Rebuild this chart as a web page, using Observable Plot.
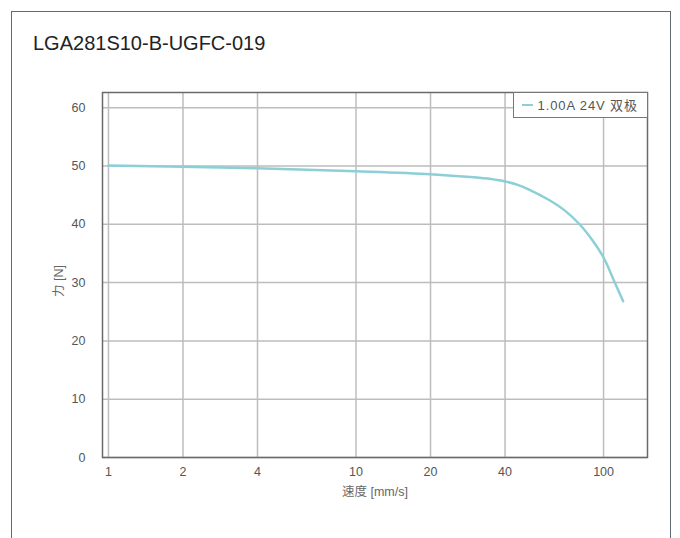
<!DOCTYPE html>
<html><head><meta charset="utf-8">
<script src="https://cdn.jsdelivr.net/npm/d3@7"></script>
<script src="https://cdn.jsdelivr.net/npm/@observablehq/plot@0.6"></script>
<style>
body{margin:0;background:#fff;}
#wrap{position:relative;width:680px;height:538px;overflow:hidden;font-family:"Liberation Sans","Noto Sans CJK SC",sans-serif;background:#fff;}
#frame{position:absolute;left:11px;top:11px;width:658px;height:620px;border:1.5px solid #5f6b75;}
#title{position:absolute;left:33px;top:33px;font-size:20px;line-height:20px;color:#222;white-space:nowrap;}
#chart{position:absolute;left:0;top:0;}
#ylabel{position:absolute;left:57px;top:281px;transform:translate(-50%,-50%) rotate(-90deg);font-size:12.5px;color:#666;white-space:nowrap;}
#legend{position:absolute;left:512.5px;top:91.5px;width:133px;height:24.5px;border:1px solid #777;background:#fff;box-sizing:content-box;font-size:13px;color:#555;letter-spacing:0.9px;white-space:nowrap;}
#legend .sw{position:absolute;left:8px;top:11.5px;width:11px;height:2px;background:#8ccfd7;}
#legend .tx{position:absolute;left:24px;top:5px;line-height:15px;}
</style></head>
<body>
<div id="wrap">
  <div id="frame"></div>
  <div id="title"></div>
  <div id="chart"></div>
  <div id="ylabel"></div>
  <div id="legend"><div class="sw"></div><div class="tx"></div></div>
</div>
<script>
const titleText = "LGA281S10-B-UGFC-019";
const seriesName = "1.00A 24V 双极";
const xLabel = "速度 [mm/s]";
const yLabel = "力 [N]";
const speeds = [1, 2, 4, 10, 20, 30, 35, 40, 45, 50, 60, 70, 80, 90, 100, 110, 120];
const forces = [50.1, 49.85, 49.6, 49.1, 48.6, 48.05, 47.75, 47.35, 46.75, 45.95, 44.2, 42.3, 40.0, 37.3, 34.3, 30.4, 26.8];
const xTicks = [1, 2, 4, 10, 20, 40, 100];
const yTicks = [0, 10, 20, 30, 40, 50, 60];

const data = speeds.map((s, i) => ({speed: s, force: forces[i]}));

document.getElementById("title").textContent = titleText;
document.getElementById("ylabel").textContent = yLabel;
document.querySelector("#legend .tx").textContent = seriesName;

const chart = Plot.plot({
  width: 680,
  height: 538,
  marginLeft: 102,
  marginRight: 33,
  marginTop: 92,
  marginBottom: 81,
  style: {fontFamily: '"Liberation Sans","Noto Sans CJK SC",sans-serif', fontSize: "12.5px", color: "#555", background: "transparent"},
  x: {type: "log", domain: [0.946, 150.5], axis: null},
  y: {domain: [0, 62.6]},
  marks: [
    Plot.ruleX(xTicks, {x: d => d, stroke: "#bdbdbd", strokeWidth: 1.5}),
    Plot.gridY(yTicks, {stroke: "#bdbdbd", strokeOpacity: 1, strokeWidth: 1.5}),
    Plot.frame({stroke: "#6a6a6a", strokeWidth: 1.5}),
    Plot.line(data, {x: "speed", y: "force", stroke: "#8ccfd7", strokeWidth: 2.5, curve: "catmull-rom"}),
    Plot.text(xTicks, {x: d => d, frameAnchor: "bottom", dy: 18.5, text: d => String(d), fill: "#555", fontSize: 12.5}),
    Plot.text([xLabel], {frameAnchor: "bottom", dy: 38, text: d => d, fill: "#666", fontSize: 12.5}),
    Plot.axisY(yTicks, {tickSize: 0, tickPadding: 17, label: null, fill: "#555"})
  ]
});
document.getElementById("chart").appendChild(chart);
</script>
</body></html>
